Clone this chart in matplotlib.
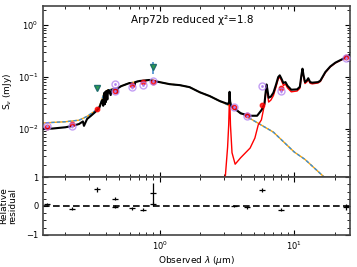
import matplotlib
matplotlib.use('Agg')
import matplotlib.pyplot as plt
from matplotlib.ticker import MultipleLocator, LogLocator, NullFormatter

# total model spectrum (um, mJy)
model_wl = [0.13, 0.16, 0.2, 0.224, 0.253, 0.27, 0.275, 0.29, 0.31, 0.333, 0.357, 0.365,
            0.375, 0.382, 0.388, 0.393, 0.397, 0.40, 0.404, 0.41, 0.415, 0.42, 0.434, 0.44,
            0.47, 0.486, 0.49, 0.52, 0.60, 0.656, 0.66, 0.71, 0.84, 1.0, 1.19, 1.41, 1.67,
            1.99, 2.36, 2.8, 3.22, 3.28, 3.31, 3.34, 3.4, 4.0, 4.69, 5.3, 5.7, 6.0, 6.22,
            6.3, 6.45, 6.7, 7.0, 7.3, 7.6, 7.8, 8.0, 8.3, 8.6, 8.9, 9.5, 10.5, 11.0, 11.3,
            11.5, 11.7, 12.0, 12.4, 12.7, 13.1, 13.6, 15.0, 15.6, 17.0, 18.5, 20.2, 23.0, 26.5]
model_flux = [0.0100, 0.0102, 0.0108, 0.0114, 0.0125, 0.0140, 0.0115, 0.0156, 0.0180, 0.0212,
              0.0254, 0.030, 0.036, 0.028, 0.049, 0.030, 0.052, 0.033, 0.054, 0.037, 0.056,
              0.056, 0.045, 0.057, 0.059, 0.050, 0.061, 0.067, 0.077, 0.070, 0.080, 0.084,
              0.088, 0.080, 0.073, 0.070, 0.064, 0.051, 0.043, 0.0345, 0.0303, 0.033, 0.052,
              0.034, 0.028, 0.020, 0.018, 0.018, 0.023, 0.030, 0.072, 0.060, 0.040, 0.042,
              0.050, 0.070, 0.100, 0.108, 0.095, 0.077, 0.080, 0.068, 0.057, 0.058, 0.065,
              0.110, 0.145, 0.110, 0.080, 0.086, 0.095, 0.080, 0.078, 0.080, 0.085, 0.125,
              0.160, 0.190, 0.225, 0.28]

# dust emission
dust_wl = [3.05, 3.2, 3.26, 3.31, 3.36, 3.45, 3.64, 4.0, 4.7, 5.1, 5.4, 5.7, 6.0, 6.22, 6.3,
           6.45, 6.7, 7.0, 7.3, 7.6, 7.8, 8.0, 8.3, 8.6, 8.9, 9.5, 10.5, 11.0, 11.3, 11.5,
           11.7, 12.0, 12.4, 12.7, 13.1, 13.6, 15.0, 15.6, 17.0, 18.5, 20.2, 23.0, 26.5]
dust_flux = [0.0009, 0.0045, 0.012, 0.050, 0.012, 0.0035, 0.0021, 0.0028, 0.0043, 0.0067,
             0.012, 0.015, 0.029, 0.068, 0.052, 0.033, 0.036, 0.044, 0.063, 0.092, 0.100,
             0.088, 0.069, 0.073, 0.062, 0.052, 0.054, 0.061, 0.104, 0.138, 0.104, 0.075,
             0.081, 0.090, 0.076, 0.074, 0.077, 0.082, 0.122, 0.157, 0.187, 0.222, 0.278]

# stellar emission
star_wl = [0.13, 0.2, 0.253, 0.29, 0.333, 0.357, 0.375, 0.388, 0.41, 0.47, 0.52, 0.60, 0.71,
           0.84, 1.0, 1.19, 1.41, 1.67, 1.99, 2.36, 2.8, 3.22, 4.5, 7.0, 10.0, 12.0, 16.7,
           20.0, 26.5]
star_flux = [0.0130, 0.0138, 0.0148, 0.0175, 0.0225, 0.027, 0.038, 0.050, 0.056, 0.060,
             0.067, 0.077, 0.084, 0.087, 0.080, 0.073, 0.070, 0.064, 0.051, 0.043, 0.0345,
             0.029, 0.017, 0.0087, 0.0036, 0.0026, 0.00118, 0.0008, 0.0004]

# photometry
obs_wl = [0.146, 0.224, 0.47, 0.47, 0.62, 0.76, 0.90, 3.57, 4.46, 5.77, 8.0, 24.0]
obs_flux = [0.0115, 0.0114, 0.073, 0.054, 0.064, 0.070, 0.084, 0.0265, 0.0178, 0.067, 0.054, 0.232]
obs_err = [0.0008, 0.0008, 0.004, 0.003, 0.004, 0.004, 0.005, 0.0015, 0.001, 0.004, 0.004, 0.02]
mod_wl = [0.146, 0.224, 0.344, 0.47, 0.62, 0.76, 0.90, 3.57, 4.46, 5.77, 8.0, 24.0]
mod_flux = [0.0107, 0.0125, 0.024, 0.055, 0.070, 0.080, 0.080, 0.0265, 0.0187, 0.029, 0.061, 0.239]
ul_wl = [0.344, 0.90]
ul_flux = [0.061, 0.156]
ul_err = [0.0, 0.04]

res_wl = [0.146, 0.224, 0.344, 0.47, 0.47, 0.62, 0.76, 0.90, 0.90, 3.57, 4.46, 5.77, 8.0, 24.0]
res_val = [0.07, -0.10, 0.58, 0.25, -0.03, -0.08, -0.13, 0.45, 0.07, 0.0, -0.05, 0.55, -0.13, -0.03]
res_err = [0.05, 0.05, 0.08, 0.05, 0.05, 0.05, 0.06, 0.35, 0.06, 0.04, 0.06, 0.07, 0.06, 0.1]

fig = plt.figure(figsize=(3.57, 2.67), dpi=100)
ax = fig.add_axes([0.121, 0.337, 0.860, 0.641])
axr = fig.add_axes([0.121, 0.120, 0.860, 0.217], sharex=ax)

ax.plot(star_wl, star_flux, color='orange', lw=1.0, zorder=2)
ax.plot(star_wl, star_flux, color='#3a8fd9', lw=1.0, ls=(0, (2.5, 1.5)), zorder=2)
ax.plot(dust_wl, dust_flux, color='red', lw=1.0, zorder=3)
ax.plot(model_wl, model_flux, color='black', lw=1.5, zorder=4)

ax.errorbar(ul_wl, ul_flux, yerr=ul_err, fmt='v', color='#2e9e4a', mec='#1f6e6e',
            ecolor='#4a8fd0', ms=5, elinewidth=1.2, zorder=6)
ax.plot(mod_wl, mod_flux, 'o', color='red', ms=3.2, alpha=0.8, zorder=5)
ax.errorbar(obs_wl, obs_flux, yerr=obs_err, fmt='o', mfc='none', mec='#b07ff0', ecolor='#b07ff0',
            ms=5, mew=1.0, elinewidth=1.0, alpha=0.75, zorder=6)
ax.plot(obs_wl, obs_flux, '.', color='#b07ff0', ms=2, alpha=0.8, zorder=6)

ax.set_xscale('log')
ax.set_yscale('log')
ax.set_xlim(0.137, 26)
ax.set_ylim(1.19e-3, 2.35)
ax.yaxis.set_minor_locator(LogLocator(base=10, subs=range(2, 10), numticks=10))
ax.yaxis.set_minor_formatter(NullFormatter())
ax.set_yticks([1e-2, 1e-1, 1])
ax.set_ylabel(r'S$_\nu$ (mJy)', fontsize=6.5)
ax.yaxis.set_label_coords(-0.095, 0.5)
ax.tick_params(which='both', direction='in', top=True, right=True, labelsize=6)
ax.tick_params(labelbottom=False)
ax.text(0.485, 0.92, 'Arp72b reduced \u03c7\u00b2=1.8', transform=ax.transAxes, fontsize=7.5,
        ha='center', va='center')

axr.axhline(0, color='black', ls='--', lw=1.2, dashes=(4, 2))
axr.errorbar(res_wl, res_val, yerr=res_err, fmt='_', color='black', ms=5, mew=0.9,
             elinewidth=0.9)
axr.set_ylim(-1, 1)
axr.set_yticks([-1, 0, 1])
axr.yaxis.set_minor_locator(MultipleLocator(0.25))
axr.set_ylabel('Relative\nresidual', fontsize=6.5, linespacing=1.0)
axr.yaxis.set_label_coords(-0.085, 0.5)
axr.set_xlabel(r'Observed $\lambda$ ($\mu$m)', fontsize=6.5, labelpad=1)
axr.tick_params(which='both', direction='in', top=True, right=True, labelsize=6)

for a in (ax, axr):
    for s in a.spines.values():
        s.set_color('#444444')
        s.set_linewidth(1.2)

fig.savefig('out.png', dpi=100)
